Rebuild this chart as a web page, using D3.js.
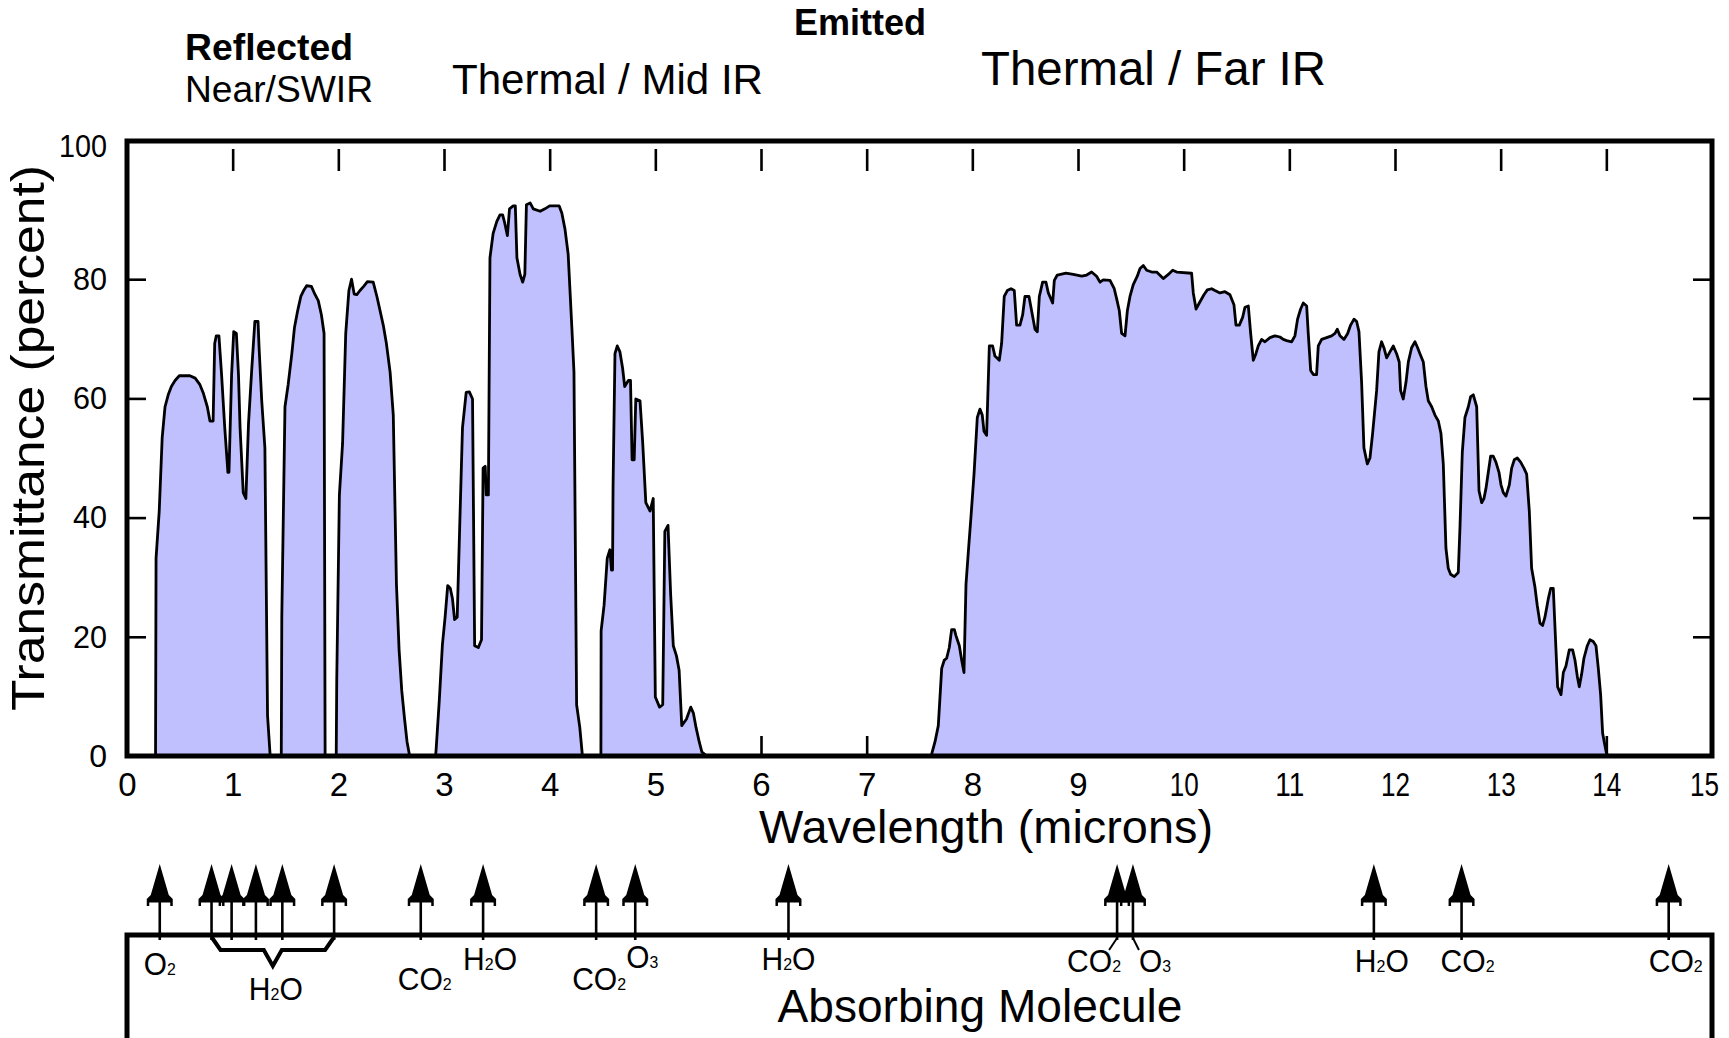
<!DOCTYPE html>
<html>
<head>
<meta charset="utf-8">
<script src="https://cdn.jsdelivr.net/npm/d3@7"></script>
<style>
  body { margin: 0; background: #fff; }
  svg { display: block; }
  text { font-family: "Liberation Sans", Arial, sans-serif; fill: #000; }
</style>
</head>
<body>
<div id="chart"></div>
<script>
// atmospheric windows, [wavelength (microns), transmittance (percent)]
var nearIrWindow = [[0.27,0],[0.275,33.2],[0.305,41.1],[0.333,53.4],[0.36,58.6],[0.39,60.6],[0.42,62],[0.455,63],
  [0.495,63.8],[0.595,63.8],[0.645,63.4],[0.69,62.3],[0.72,61],[0.76,58.6],[0.785,56.2],[0.815,56.2],[0.83,69.2],
  [0.845,70.5],[0.87,70.5],[0.895,64],[0.925,55.1],[0.955,47.6],[0.965,47.6],[0.99,64],[1.01,71.2],[1.035,70.9],
  [1.055,64],[1.07,55.1],[1.10,44.2],[1.125,43.2],[1.15,55.8],[1.18,64.7],[1.21,72.9],[1.24,72.9],[1.25,68.5],
  [1.275,59.6],[1.305,51.7],[1.33,6.8],[1.355,0]];

var swirWindow1 = [[1.46,0],[1.465,23.3],[1.495,58.6],[1.525,62.3],[1.56,67.5],[1.585,71.9],[1.615,74.7],[1.645,77.1],
  [1.675,78.2],[1.70,78.9],[1.745,78.8],[1.78,77.4],[1.81,76.4],[1.84,74],[1.865,70.9],[1.875,0]];

var swirWindow2 = [[1.98,0],[1.985,12.7],[2.01,43.8],[2.04,52.4],[2.07,70.9],[2.10,78.1],[2.125,80],[2.15,77.5],
  [2.175,77.4],[2.205,78.1],[2.24,78.8],[2.275,79.6],[2.33,79.5],[2.365,77.1],[2.395,74.7],[2.425,72.3],[2.455,69.2],
  [2.49,64.4],[2.52,57.2],[2.55,28.8],[2.575,17.8],[2.60,11],[2.625,6.5],[2.65,2.4],[2.675,0]];

var midIrWindow1 = [[2.92,0],[2.925,1],[2.955,9.2],[2.985,18.7],[3.01,23.2],[3.035,28.6],[3.06,28.1],[3.08,26.4],
  [3.10,22.9],[3.125,23.3],[3.15,39.4],[3.175,55.1],[3.21,61],[3.24,61.1],[3.27,59.9],[3.29,18.5],[3.325,18.2],
  [3.355,19.5],[3.37,48.3],[3.39,48.6],[3.40,43.8],[3.42,43.8],[3.435,83.6],[3.465,87.7],[3.50,89.7],[3.53,90.8],
  [3.555,90.8],[3.575,89.4],[3.60,87.3],[3.62,91.8],[3.655,92.3],[3.675,92.3],[3.69,83.6],[3.72,80.8],[3.745,79.5],
  [3.765,80.8],[3.78,92.5],[3.815,92.8],[3.845,91.8],[3.91,91.4],[3.955,91.8],[4.00,92.3],[4.09,92.3],[4.115,91.1],
  [4.145,88.4],[4.175,84.2],[4.21,71.9],[4.23,64.4],[4.255,8.6],[4.285,4.8],[4.31,0]];

var midIrWindow2 = [[4.485,0],[4.487,21],[4.515,25.3],[4.545,33.2],[4.57,34.6],[4.585,31.2],[4.595,31.2],[4.60,45.2],
  [4.618,67.5],[4.64,68.8],[4.665,67.8],[4.69,65.1],[4.71,62],[4.745,63],[4.765,63],[4.78,49.7],[4.80,49.7],
  [4.815,59.9],[4.855,59.6],[4.88,52.7],[4.91,42.5],[4.95,41.1],[4.98,43.2],[5.0,9.9],[5.04,8.2],[5.07,8.6],
  [5.09,37.7],[5.12,38.7],[5.145,27.1],[5.17,18.5],[5.20,16.8],[5.225,14.4],[5.25,5.1],[5.295,6.2],[5.335,8.2],
  [5.36,7.2],[5.385,4.8],[5.415,2.4],[5.44,0.7],[5.485,0]];

var farIrWindow = [[7.61,0],[7.615,0.3],[7.647,2.4],[7.678,5.1],[7.71,14.7],[7.735,16.1],[7.757,16.4],[7.782,18.2],
  [7.804,21.2],[7.83,21.2],[7.845,20.2],[7.877,18.5],[7.899,16.1],[7.921,14],[7.94,28.8],[7.962,34.2],[7.987,40.1],
  [8.016,47.3],[8.047,56.8],[8.072,58.2],[8.094,57.2],[8.11,54.5],[8.135,53.8],[8.161,68.8],[8.192,68.8],[8.214,67.1],
  [8.255,66.4],[8.277,69.2],[8.302,77.1],[8.331,78.1],[8.366,78.4],[8.397,78.1],[8.419,72.3],[8.451,72.3],[8.476,74],
  [8.498,77.1],[8.536,77.1],[8.561,74.7],[8.593,71.6],[8.615,71.2],[8.634,77.1],[8.665,79.5],[8.697,79.5],[8.719,77.7],
  [8.76,76],[8.776,79.8],[8.804,80.7],[8.886,81],[8.955,80.8],[9.035,80.5],[9.082,80.7],[9.129,81.2],[9.176,80.5],
  [9.208,79.5],[9.239,79.9],[9.303,79.8],[9.343,78.4],[9.366,76.7],[9.391,74.7],[9.413,70.9],[9.445,70.5],[9.467,74.7],
  [9.492,77.1],[9.523,79.1],[9.561,80.5],[9.587,81.8],[9.618,82.3],[9.65,81.5],[9.697,81.2],[9.744,81.2],[9.807,80.1],
  [9.855,80.8],[9.896,81.5],[9.934,81.2],[10.075,81],[10.091,77.7],[10.117,75],[10.148,76],[10.192,77.4],[10.224,78.2],
  [10.265,78.4],[10.296,78.1],[10.343,77.7],[10.391,77.9],[10.438,77.4],[10.476,75.7],[10.495,72.3],[10.527,72.3],
  [10.558,73.6],[10.58,75.3],[10.612,75.5],[10.634,70.9],[10.659,66.4],[10.684,67.5],[10.706,68.8],[10.738,69.9],
  [10.769,69.5],[10.817,70.2],[10.864,70.5],[10.911,70.3],[10.943,69.9],[10.975,69.7],[11.022,69.5],[11.053,70.5],
  [11.078,73.3],[11.107,75],[11.132,76],[11.164,75.5],[11.179,70.9],[11.202,64.7],[11.227,64],[11.258,64],[11.274,68.8],
  [11.306,69.9],[11.353,70.2],[11.4,70.5],[11.432,70.9],[11.454,71.6],[11.479,70.5],[11.517,69.9],[11.552,70.9],
  [11.58,72.3],[11.612,73.3],[11.637,72.9],[11.659,71.2],[11.684,62.7],[11.706,51.7],[11.738,49],[11.763,50],
  [11.788,54.1],[11.826,61.3],[11.848,67.8],[11.873,69.5],[11.895,68.5],[11.921,66.8],[11.952,67.8],[11.984,68.8],
  [12.015,67.5],[12.04,66.1],[12.053,61.3],[12.078,59.9],[12.104,62.7],[12.126,66.1],[12.157,68.5],[12.189,69.5],
  [12.214,68.5],[12.236,67.5],[12.268,66.1],[12.293,62],[12.315,59.6],[12.347,58.6],[12.378,57.2],[12.41,56.2],
  [12.435,54.1],[12.457,49],[12.482,34.9],[12.504,31.5],[12.526,30.5],[12.561,30.1],[12.599,30.8],[12.615,38.4],
  [12.637,51],[12.662,56.8],[12.694,58.6],[12.716,60.3],[12.741,60.6],[12.773,58.6],[12.795,44.5],[12.82,42.5],
  [12.842,43.2],[12.861,44.9],[12.883,47.6],[12.905,50.3],[12.93,50.3],[12.955,49.3],[12.984,47.6],[13.003,45.5],
  [13.025,44.2],[13.05,43.6],[13.082,45.5],[13.104,48.3],[13.129,49.7],[13.157,50],[13.189,49.3],[13.22,48.3],
  [13.246,47.3],[13.271,41.1],[13.293,31.5],[13.324,28.4],[13.346,25.3],[13.372,22.3],[13.397,21.9],[13.419,23.3],
  [13.451,26.4],[13.473,28.1],[13.498,28.1],[13.514,21.6],[13.539,11.6],[13.571,10.3],[13.593,14],[13.618,15.1],
  [13.649,17.8],[13.681,17.8],[13.703,16.1],[13.725,13.4],[13.744,11.6],[13.766,13.7],[13.788,16.4],[13.82,18.5],
  [13.845,19.5],[13.876,19.2],[13.902,18.5],[13.924,14.7],[13.946,10.3],[13.965,3.8],[13.987,1.7],[14.003,0.3],[14.028,0]];

// axes
var xTickLabels = d3.range(0, 16);
var yTickLabels = [0, 20, 40, 60, 80, 100];
var xTopTicks = d3.range(1, 15);
var xBottomTicks = d3.range(6, 15);
var yInnerTicks = [20, 40, 60, 80];

// absorbing molecules: label and the wavelengths its arrows point at
var moleculeNames = ["O2", "H2O", "CO2", "H2O", "CO2", "O3", "H2O", "CO2", "O3", "H2O", "CO2", "CO2"];
var moleculeBands = [[0.31], [0.80, 0.99, 1.22, 1.47, 1.96], [2.78], [3.37], [4.44], [4.81], [6.26],
  [9.37], [9.52], [11.80], [12.63], [14.59]];

// headings
var headings = [
  {text: "Reflected", bold: true},
  {text: "Near/SWIR", bold: false},
  {text: "Emitted", bold: true},
  {text: "Thermal / Mid IR", bold: false},
  {text: "Thermal / Far IR", bold: false}
];

var W = 1729, H = 1038;
var MARGIN = {top: 141, right: 17, bottom: 282, left: 127},
    WIDTH = W - MARGIN.left - MARGIN.right,
    HEIGHT = H - MARGIN.top - MARGIN.bottom;

var svg = d3.select("#chart").append("svg").attr("width", W).attr("height", H);

var g = svg.append("g").attr("transform", "translate(" + MARGIN.left + "," + MARGIN.top + ")");

var x = d3.scaleLinear().domain([0, 15]).range([0, WIDTH]);
var y = d3.scaleLinear().domain([0, 100]).range([HEIGHT, 19]);

function bare(sel) {
  sel.select(".domain").remove();
  sel.selectAll(".tick line").attr("stroke", "#000").attr("stroke-width", 2.6);
}

// inner ticks
g.append("g")
  .call(d3.axisBottom(x).tickValues(xTopTicks).tickSize(30).tickFormat(""))
  .call(bare)
  .selectAll(".tick line").attr("y1", 8);

g.append("g")
  .attr("transform", "translate(0," + HEIGHT + ")")
  .call(d3.axisTop(x).tickValues(xBottomTicks).tickSize(20).tickFormat(""))
  .call(bare);

g.append("g")
  .call(d3.axisRight(y).tickValues(yInnerTicks).tickSize(19).tickFormat(""))
  .call(bare);

g.append("g")
  .attr("transform", "translate(" + WIDTH + ",0)")
  .call(d3.axisLeft(y).tickValues(yInnerTicks).tickSize(19).tickFormat(""))
  .call(bare);

// transmittance
var aSeries = [].concat(nearIrWindow, swirWindow1, swirWindow2, midIrWindow1, midIrWindow2, farIrWindow);

g.append("path")
  .datum(aSeries)
  .attr("fill", "#c0c0ff")
  .attr("d", d3.area().x(d => x(d[0])).y0(HEIGHT).y1(d => y(d[1])));

g.append("path")
  .datum(aSeries)
  .attr("fill", "none")
  .attr("stroke", "#000")
  .attr("stroke-width", 2.8)
  .attr("stroke-linejoin", "round")
  .attr("d", d3.line().x(d => x(d[0])).y(d => y(d[1])));

// frame
g.append("rect")
  .attr("width", WIDTH).attr("height", HEIGHT)
  .attr("fill", "none").attr("stroke", "#000").attr("stroke-width", 5);

// tick labels
var xLab = g.append("g")
  .attr("transform", "translate(0," + HEIGHT + ")")
  .call(d3.axisBottom(x).tickValues(xTickLabels).tickSize(0).tickPadding(17));
xLab.select(".domain").remove();
xLab.selectAll("text")
  .style("font-size", "33px")
  .each(function(d) {
    if (String(d).length > 1) d3.select(this).attr("textLength", 29).attr("lengthAdjust", "spacingAndGlyphs");
  });
// the last label sits on the page edge, as in the original
xLab.selectAll(".tick").filter(d => d === 15).select("text").attr("x", -8);

var yLab = g.append("g")
  .call(d3.axisLeft(y).tickValues(yTickLabels).tickSize(0).tickPadding(20));
yLab.select(".domain").remove();
yLab.selectAll("text")
  .style("font-size", "32px")
  .each(function(d) {
    var n = String(d).length;
    if (n > 1) d3.select(this).attr("textLength", n === 3 ? 48 : 34).attr("lengthAdjust", "spacingAndGlyphs");
  });
// top label is tucked up against the frame corner
yLab.selectAll(".tick").filter(d => d === 100).select("text").attr("y", -14);

// axis titles
svg.append("text")
  .attr("transform", "translate(44,438) rotate(-90)")
  .attr("text-anchor", "middle")
  .attr("textLength", 546).attr("lengthAdjust", "spacingAndGlyphs")
  .style("font-size", "46px")
  .text("Transmittance (percent)");

svg.append("text")
  .attr("x", 986).attr("y", 843)
  .attr("text-anchor", "middle")
  .attr("textLength", 454).attr("lengthAdjust", "spacingAndGlyphs")
  .style("font-size", "47px")
  .text("Wavelength (microns)");

// headings (placement per heading)
var HEAD_LAYOUT = [
  {x: 185, y: 60, size: 37, len: 168},
  {x: 185, y: 102, size: 37, len: 188},
  {x: 794, y: 35, size: 36, len: 132},
  {x: 452, y: 94, size: 43, len: 311},
  {x: 981, y: 85, size: 48, len: 345}
];
svg.selectAll(".heading")
  .data(headings)
  .enter().append("text")
  .attr("class", "heading")
  .attr("x", (d, i) => HEAD_LAYOUT[i].x)
  .attr("y", (d, i) => HEAD_LAYOUT[i].y)
  .attr("textLength", (d, i) => HEAD_LAYOUT[i].len)
  .attr("lengthAdjust", "spacingAndGlyphs")
  .style("font-size", (d, i) => HEAD_LAYOUT[i].size + "px")
  .style("font-weight", d => d.bold ? "bold" : "normal")
  .text(d => d.text);

// absorbing molecule panel
var BOX_TOP = 935, ARROW_TIP = 864;
var ab = svg.append("g").attr("transform", "translate(" + MARGIN.left + ",0)");

ab.append("path")
  .attr("d", "M0," + (H + 5) + "V" + BOX_TOP + "H" + WIDTH + "V" + (H + 5))
  .attr("fill", "none").attr("stroke", "#000").attr("stroke-width", 5);

var aArrows = d3.merge(moleculeBands);
var arrow = ab.selectAll(".arrow")
  .data(aArrows)
  .enter().append("g")
  .attr("class", "arrow")
  .attr("transform", d => "translate(" + x(d) + "," + ARROW_TIP + ")");

arrow.append("line")
  .attr("y1", 36).attr("y2", BOX_TOP - ARROW_TIP + 5)
  .attr("stroke", "#000").attr("stroke-width", 2.6);

arrow.append("path")
  .attr("d", "M0,0L-9,31L-13,35L-13,42L-10.5,42L-10.5,38.5L10.5,38.5L10.5,42L13,42L13,35L9,31Z")
  .attr("fill", "#000");

// bracket for the grouped water bands
var aGroup = moleculeBands[1],
    fL = x(aGroup[0]), fR = x(aGroup[aGroup.length - 1]), fMid = (fL + fR) / 2;
ab.append("path")
  .attr("d", "M" + fL + "," + (BOX_TOP + 2) + "L" + (fL + 9) + "," + (BOX_TOP + 15) + "H" + (fMid - 9) +
             "L" + fMid + "," + (BOX_TOP + 31) + "L" + (fMid + 9) + "," + (BOX_TOP + 15) + "H" + (fR - 9) +
             "L" + fR + "," + (BOX_TOP + 2))
  .attr("fill", "none").attr("stroke", "#000").attr("stroke-width", 4);

// small splits under the close CO2 / O3 pair
[[7, -8], [8, 6]].forEach(function(a) {
  var fx = x(moleculeBands[a[0]][0]);
  ab.append("line")
    .attr("x1", fx).attr("y1", BOX_TOP + 3)
    .attr("x2", fx + a[1]).attr("y2", BOX_TOP + 15)
    .attr("stroke", "#000").attr("stroke-width", 2);
});

// molecule labels: [dx from band centre, baseline]
var LABEL_LAYOUT = [[0, 975], [3, 1000], [4, 990], [7, 970], [3, 990], [7, 968], [0, 970],
  [-23, 972], [22, 972], [8, 972], [6, 972], [7, 972]];

var label = ab.selectAll(".mol")
  .data(moleculeNames)
  .enter().append("text")
  .attr("class", "mol")
  .attr("text-anchor", "middle")
  .attr("x", function(d, i) {
    var aB = moleculeBands[i];
    return (x(aB[0]) + x(aB[aB.length - 1])) / 2 + LABEL_LAYOUT[i][0];
  })
  .attr("y", (d, i) => LABEL_LAYOUT[i][1])
  .attr("textLength", d => d.length === 3 ? 54 : 32)
  .attr("lengthAdjust", "spacingAndGlyphs")
  .style("font-size", "32px");

label.each(function(sName) {
  var t = d3.select(this);
  sName.split(/(\d)/).filter(s => s).forEach(function(s) {
    var ts = t.append("tspan").text(s);
    if (/\d/.test(s)) ts.style("font-size", "17px");
  });
});

svg.append("text")
  .attr("x", 980).attr("y", 1022)
  .attr("text-anchor", "middle")
  .attr("textLength", 405).attr("lengthAdjust", "spacingAndGlyphs")
  .style("font-size", "46px")
  .text("Absorbing Molecule");
</script>
</body>
</html>
